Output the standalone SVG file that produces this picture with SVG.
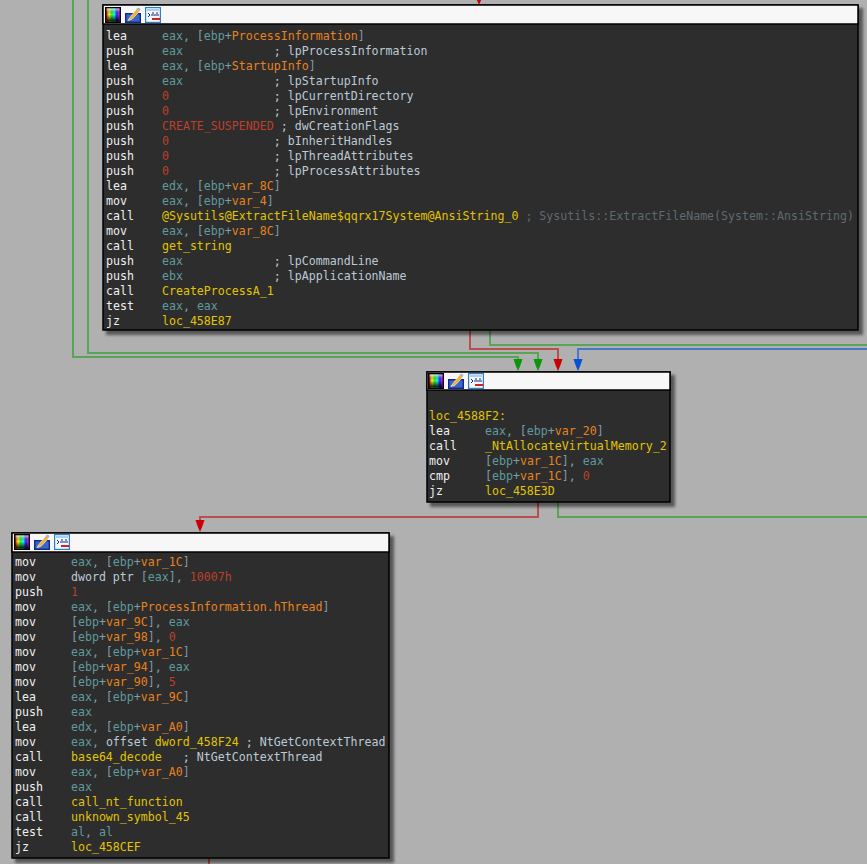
<svg xmlns="http://www.w3.org/2000/svg" width="867" height="864" viewBox="0 0 867 864">
<style>
.body{fill:#2d2d2d;stroke:#000;stroke-width:1.5}
.head{fill:#f7f7f7;stroke:#000;stroke-width:1.5}
.sh{fill:#000;opacity:.5;filter:url(#blur)}
text{font-family:"DejaVu Sans Mono","Liberation Mono",monospace;font-size:11.62px;fill:#f0f0f0;white-space:pre}
.r{fill:#5f9a9c}.b{fill:#6f8f9f}.p{fill:#7f9fa8}.o{fill:#e8821c}.n{fill:#bc402c}.y{fill:#e2c400}.c{fill:#bccad6}.g{fill:#5f6a70}
.cn{fill:none;stroke-width:2}
.gl{stroke:#58a558}.rl{stroke:#b85050}.bl{stroke:#4a78c8}
</style>
<defs>
<filter id="blur" x="-5%" y="-5%" width="110%" height="110%"><feGaussianBlur stdDeviation="1.6"/></filter>
<linearGradient id="hue" x1="0" x2="1" y1="0" y2="0"><stop offset="0" stop-color="#ff2020"/><stop offset=".2" stop-color="#ffff20"/><stop offset=".4" stop-color="#20ff20"/><stop offset=".6" stop-color="#20ffff"/><stop offset=".8" stop-color="#2020ff"/><stop offset="1" stop-color="#ff20ff"/></linearGradient>
<linearGradient id="dark" x1="0" x2="0" y1="0" y2="1"><stop offset="0" stop-color="#fff" stop-opacity=".75"/><stop offset=".45" stop-color="#000" stop-opacity="0"/><stop offset="1" stop-color="#000" stop-opacity=".95"/></linearGradient>
<g id="icons">
<rect x="0" y="0" width="16" height="16" fill="#000"/>
<rect x="1.5" y="1.5" width="13" height="13" fill="url(#hue)"/>
<rect x="1.5" y="1.5" width="13" height="13" fill="url(#dark)"/>
<rect x="20.7" y="6.7" width="14.6" height="8.6" fill="#3a66c8" stroke="#10288a" stroke-width="1.4"/>
<path d="M23 13.5l2-3 7-9 3 2.300-8 8.500z" fill="#f4b030" stroke="#f8f0d0" stroke-width=".7"/>
<path d="M31.500 2l2-1.500 2 1.500-1 2z" fill="#8fb8e8"/>
<rect x="40.600" y="0.600" width="14.800" height="14.800" fill="#f4f8fc" stroke="#2a7fc8" stroke-width="1.200"/>
<rect x="42" y="2" width="12" height="2" fill="#a8d0f0"/>
<path d="M43 6l2 2-2 2M46 8h8M47 6h2M51 6h2" stroke="#10288a" fill="none"/>
<path d="M47 12h8" stroke="#d82020" stroke-width="2"/>
</g>
<path id="ah" d="M-4.500 -12H4.500L2.500 -6L0 0L-2.500 -6Z"/>
</defs>
<rect width="867" height="864" fill="#b0b0b0"/>

<g id="connectors">
<path class="cn gl" d="M73 0V357H518V362"/>
<path class="cn gl" d="M88 0V353H538V362"/>
<path class="cn rl" d="M470 330V349H558V362"/>
<path class="cn gl" d="M490 330V345H867"/>
<path class="cn bl" d="M867 349H578V362"/>
<path class="cn rl" d="M538 502V517H200V523"/>
<path class="cn gl" d="M558 502V517H867"/>
<path class="cn rl" d="M209 858V864"/>
<use href="#ah" x="479" y="5" fill="#c80000"/>
<use href="#ah" x="518" y="371" fill="#0a960a"/>
<use href="#ah" x="538" y="371" fill="#0a960a"/>
<use href="#ah" x="558" y="371" fill="#c80000"/>
<use href="#ah" x="578" y="371" fill="#0a50d0"/>
<use href="#ah" x="200" y="532" fill="#c80000"/>
</g>

<g id="node-1">
<rect class="sh" x="106" y="8" width="757" height="327"/>
<rect class="body" x="103" y="5" width="755" height="325"/>
<rect class="head" x="103" y="5" width="755" height="19"/>
<use href="#icons" x="105" y="7"/>
<g transform="translate(0,1)">
<text x="106" y="39" xml:space="preserve">lea     <tspan class="r">eax</tspan><tspan class="p">, [</tspan><tspan class="r">ebp</tspan><tspan class="p">+</tspan><tspan class="o">ProcessInformation</tspan><tspan class="p">]</tspan></text>
<text x="106" y="54" xml:space="preserve">push    <tspan class="r">eax</tspan>             <tspan class="c">; lpProcessInformation</tspan></text>
<text x="106" y="69" xml:space="preserve">lea     <tspan class="r">eax</tspan><tspan class="p">, [</tspan><tspan class="r">ebp</tspan><tspan class="p">+</tspan><tspan class="o">StartupInfo</tspan><tspan class="p">]</tspan></text>
<text x="106" y="84" xml:space="preserve">push    <tspan class="r">eax</tspan>             <tspan class="c">; lpStartupInfo</tspan></text>
<text x="106" y="99" xml:space="preserve">push    <tspan class="n">0</tspan>               <tspan class="c">; lpCurrentDirectory</tspan></text>
<text x="106" y="114" xml:space="preserve">push    <tspan class="n">0</tspan>               <tspan class="c">; lpEnvironment</tspan></text>
<text x="106" y="129" xml:space="preserve">push    <tspan class="n">CREATE_SUSPENDED</tspan> <tspan class="c">; dwCreationFlags</tspan></text>
<text x="106" y="144" xml:space="preserve">push    <tspan class="n">0</tspan>               <tspan class="c">; bInheritHandles</tspan></text>
<text x="106" y="159" xml:space="preserve">push    <tspan class="n">0</tspan>               <tspan class="c">; lpThreadAttributes</tspan></text>
<text x="106" y="174" xml:space="preserve">push    <tspan class="n">0</tspan>               <tspan class="c">; lpProcessAttributes</tspan></text>
<text x="106" y="189" xml:space="preserve">lea     <tspan class="r">edx</tspan><tspan class="p">, [</tspan><tspan class="r">ebp</tspan><tspan class="p">+</tspan><tspan class="o">var_8C</tspan><tspan class="p">]</tspan></text>
<text x="106" y="204" xml:space="preserve">mov     <tspan class="r">eax</tspan><tspan class="p">, [</tspan><tspan class="r">ebp</tspan><tspan class="p">+</tspan><tspan class="o">var_4</tspan><tspan class="p">]</tspan></text>
<text x="106" y="219" xml:space="preserve">call    <tspan class="y">@Sysutils@ExtractFileName$qqrx17System@AnsiString_0</tspan> <tspan class="g">; Sysutils::ExtractFileName(System::AnsiString)</tspan></text>
<text x="106" y="234" xml:space="preserve">mov     <tspan class="r">eax</tspan><tspan class="p">, [</tspan><tspan class="r">ebp</tspan><tspan class="p">+</tspan><tspan class="o">var_8C</tspan><tspan class="p">]</tspan></text>
<text x="106" y="249" xml:space="preserve">call    <tspan class="y">get_string</tspan></text>
<text x="106" y="264" xml:space="preserve">push    <tspan class="r">eax</tspan>             <tspan class="c">; lpCommandLine</tspan></text>
<text x="106" y="279" xml:space="preserve">push    <tspan class="r">ebx</tspan>             <tspan class="c">; lpApplicationName</tspan></text>
<text x="106" y="294" xml:space="preserve">call    <tspan class="y">CreateProcessA_1</tspan></text>
<text x="106" y="309" xml:space="preserve">test    <tspan class="r">eax</tspan><tspan class="p">, </tspan><tspan class="r">eax</tspan></text>
<text x="106" y="324" xml:space="preserve">jz      <tspan class="y">loc_458E87</tspan></text>
</g>
</g>

<g id="node-2">
<rect class="sh" x="430" y="375" width="245" height="132"/>
<rect class="body" x="427" y="372" width="243" height="130"/>
<rect class="head" x="427" y="372" width="243" height="18"/>
<use href="#icons" x="428" y="373"/>
<text x="429" y="420" xml:space="preserve"><tspan class="y">loc_4588F2:</tspan></text>
<text x="429" y="435" xml:space="preserve">lea     <tspan class="r">eax</tspan><tspan class="p">, [</tspan><tspan class="r">ebp</tspan><tspan class="p">+</tspan><tspan class="o">var_20</tspan><tspan class="p">]</tspan></text>
<text x="429" y="450" xml:space="preserve">call    <tspan class="y">_NtAllocateVirtualMemory_2</tspan></text>
<text x="429" y="465" xml:space="preserve">mov     <tspan class="p">[</tspan><tspan class="r">ebp</tspan><tspan class="p">+</tspan><tspan class="o">var_1C</tspan><tspan class="p">], </tspan><tspan class="r">eax</tspan></text>
<text x="429" y="480" xml:space="preserve">cmp     <tspan class="p">[</tspan><tspan class="r">ebp</tspan><tspan class="p">+</tspan><tspan class="o">var_1C</tspan><tspan class="p">], </tspan><tspan class="n">0</tspan></text>
<text x="429" y="495" xml:space="preserve">jz      <tspan class="y">loc_458E3D</tspan></text>
</g>

<g id="node-3">
<rect class="sh" x="15" y="536" width="379" height="327"/>
<rect class="body" x="12" y="533" width="377" height="325"/>
<rect class="head" x="12" y="533" width="377" height="19"/>
<use href="#icons" x="14" y="534"/>
<text x="15" y="566" xml:space="preserve">mov     <tspan class="r">eax</tspan><tspan class="p">, [</tspan><tspan class="r">ebp</tspan><tspan class="p">+</tspan><tspan class="o">var_1C</tspan><tspan class="p">]</tspan></text>
<text x="15" y="581" xml:space="preserve">mov     <tspan class="c">dword ptr </tspan><tspan class="p">[</tspan><tspan class="r">eax</tspan><tspan class="p">], </tspan><tspan class="n">10007h</tspan></text>
<text x="15" y="596" xml:space="preserve">push    <tspan class="n">1</tspan></text>
<text x="15" y="611" xml:space="preserve">mov     <tspan class="r">eax</tspan><tspan class="p">, [</tspan><tspan class="r">ebp</tspan><tspan class="p">+</tspan><tspan class="o">ProcessInformation.hThread</tspan><tspan class="p">]</tspan></text>
<text x="15" y="626" xml:space="preserve">mov     <tspan class="p">[</tspan><tspan class="r">ebp</tspan><tspan class="p">+</tspan><tspan class="o">var_9C</tspan><tspan class="p">], </tspan><tspan class="r">eax</tspan></text>
<text x="15" y="641" xml:space="preserve">mov     <tspan class="p">[</tspan><tspan class="r">ebp</tspan><tspan class="p">+</tspan><tspan class="o">var_98</tspan><tspan class="p">], </tspan><tspan class="n">0</tspan></text>
<text x="15" y="656" xml:space="preserve">mov     <tspan class="r">eax</tspan><tspan class="p">, [</tspan><tspan class="r">ebp</tspan><tspan class="p">+</tspan><tspan class="o">var_1C</tspan><tspan class="p">]</tspan></text>
<text x="15" y="671" xml:space="preserve">mov     <tspan class="p">[</tspan><tspan class="r">ebp</tspan><tspan class="p">+</tspan><tspan class="o">var_94</tspan><tspan class="p">], </tspan><tspan class="r">eax</tspan></text>
<text x="15" y="686" xml:space="preserve">mov     <tspan class="p">[</tspan><tspan class="r">ebp</tspan><tspan class="p">+</tspan><tspan class="o">var_90</tspan><tspan class="p">], </tspan><tspan class="n">5</tspan></text>
<text x="15" y="701" xml:space="preserve">lea     <tspan class="r">eax</tspan><tspan class="p">, [</tspan><tspan class="r">ebp</tspan><tspan class="p">+</tspan><tspan class="o">var_9C</tspan><tspan class="p">]</tspan></text>
<text x="15" y="716" xml:space="preserve">push    <tspan class="r">eax</tspan></text>
<text x="15" y="731" xml:space="preserve">lea     <tspan class="r">edx</tspan><tspan class="p">, [</tspan><tspan class="r">ebp</tspan><tspan class="p">+</tspan><tspan class="o">var_A0</tspan><tspan class="p">]</tspan></text>
<text x="15" y="746" xml:space="preserve">mov     <tspan class="r">eax</tspan><tspan class="p">, </tspan><tspan class="c">offset </tspan><tspan class="y">dword_458F24</tspan> <tspan class="c">; NtGetContextThread</tspan></text>
<text x="15" y="761" xml:space="preserve">call    <tspan class="y">base64_decode</tspan>   <tspan class="c">; NtGetContextThread</tspan></text>
<text x="15" y="776" xml:space="preserve">mov     <tspan class="r">eax</tspan><tspan class="p">, [</tspan><tspan class="r">ebp</tspan><tspan class="p">+</tspan><tspan class="o">var_A0</tspan><tspan class="p">]</tspan></text>
<text x="15" y="791" xml:space="preserve">push    <tspan class="r">eax</tspan></text>
<text x="15" y="806" xml:space="preserve">call    <tspan class="y">call_nt_function</tspan></text>
<text x="15" y="821" xml:space="preserve">call    <tspan class="y">unknown_symbol_45</tspan></text>
<text x="15" y="836" xml:space="preserve">test    <tspan class="r">al</tspan><tspan class="p">, </tspan><tspan class="r">al</tspan></text>
<text x="15" y="851" xml:space="preserve">jz      <tspan class="y">loc_458CEF</tspan></text>
</g>
</svg>
